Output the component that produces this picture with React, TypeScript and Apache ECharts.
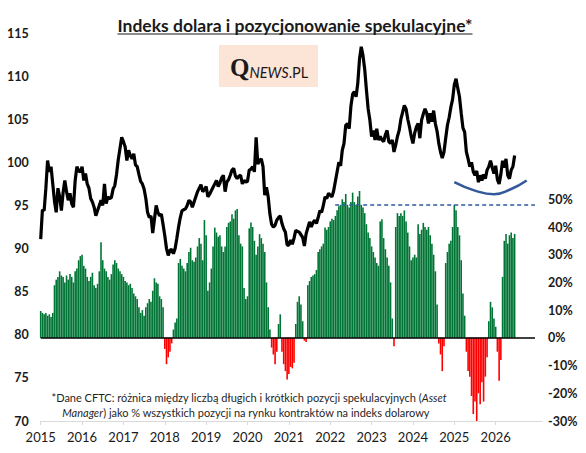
import React, { useEffect, useRef } from 'react';
import * as echarts from 'echarts';

const title = 'Indeks dolara i pozycjonowanie spekulacyjne*';
const yearTicks = [2015, 2016, 2017, 2018, 2019, 2020, 2021, 2022, 2023, 2024, 2025, 2026];

// Dollar index, two readings per month
const dxy2015 = [91.1, 94.5, 94.4, 97, 100.2, 98.9, 99.5, 97.5, 95.5, 94.2, 97.0, 96, 94.4, 96.5, 97.9, 96.6, 95.6, 96.4, 95.2, 94.8, 97.9, 99.5, 99, 98.9];
const dxy2016 = [99.5, 97.9, 98.7, 97.5, 97.0, 95.8, 95.4, 94.8, 93.8, 94.4, 95, 95.6, 95.0, 97.5, 95.2, 96.0, 95.8, 95.9, 96.9, 97.3, 98.6, 100.3, 101.6, 102.9];
const dxy2017 = [102.4, 101.8, 100.2, 101.4, 100.8, 100.4, 101.0, 99.7, 99.5, 98.6, 97.8, 97.5, 96.9, 95.8, 94.2, 93.6, 93.8, 91.8, 93.4, 95.0, 94.2, 93.8, 94.0, 92.8];
const dxy2018 = [91.5, 90.0, 89.2, 89.8, 89.9, 89.4, 90.0, 91.2, 92.5, 93.6, 94.4, 94.5, 94.6, 95.0, 95.6, 95.4, 94.8, 95.4, 96.0, 96.6, 97.0, 97.4, 96.6, 96.8];
const dxy2019 = [97.2, 96.0, 96.3, 96.7, 97.1, 97.5, 97.9, 97.2, 97.6, 98.2, 98.5, 96.6, 97.7, 98.0, 98.5, 99.1, 99.3, 98.4, 98.1, 98.4, 98.5, 97.5, 97.9, 97.7];
const dxy2020 = [97.8, 99.1, 99.2, 99.5, 98.9, 102.9, 99.8, 100.2, 100.4, 99.5, 96.2, 97.1, 96.0, 94.0, 92.8, 92.5, 92.7, 93.3, 93.6, 93.8, 92.9, 92.3, 91.9, 90.4];
const dxy2021 = [90.4, 91.0, 90.5, 91.2, 92.1, 92.0, 91.9, 91.6, 91.3, 90.3, 91.7, 92.4, 93.1, 92.5, 93.0, 93.3, 92.9, 93.6, 94.4, 94.2, 95.0, 96.0, 95.8, 96.4];
const dxy2022 = [96.2, 96.0, 96.7, 97.8, 98.9, 100.0, 99.6, 101.4, 102.2, 104.3, 104.5, 103.9, 106.5, 107.9, 108.2, 107.6, 109.2, 112.0, 113.4, 112.4, 110.8, 108.4, 106.2, 104.9];
const dxy2023 = [103.0, 103.7, 102.6, 103.9, 102.6, 103.0, 102.6, 102.4, 103.2, 103.7, 102.4, 102.2, 102.6, 101.2, 102.0, 103.0, 103.7, 105.0, 105.8, 106.6, 106.2, 105.0, 104.1, 103.0];
const dxy2024 = [102.2, 103.4, 104.1, 104.5, 102.8, 104.9, 105.6, 106.2, 105.7, 104.5, 105.7, 104.7, 106.0, 104.5, 103.6, 102.2, 101.2, 100.5, 101.2, 102.8, 104.3, 105.2, 106.4, 107.3];
const dxy2025 = [109.0, 109.7, 108.6, 107.6, 105.7, 104.0, 103.5, 101.2, 100.4, 99.5, 100.0, 98.9, 98.5, 99.0, 97.7, 98.5, 97.9, 98.6, 98.1, 99.1, 99.5, 100.2, 99.4, 98.7];
const dxy2026 = [99.6, 98.0, 97.5, 98.6, 100.2, 99.4, 100.4, 98.5, 98.1, 99.1, 99.5, 100.8];

// Net speculative positioning (% of open interest), two readings per month
const pos2015 = [9.7, 9, 8.5, 9, 8, 8.5, 7.5, 9, 19, 21, 22, 24, 22.5, 22, 20, 22.5, 21, 23, 22, 20, 24, 25, 28, 29.5];
const pos2016 = [30, 26, 25, 22, 20.5, 22, 23.5, 19, 18, 19.5, 24, 34.5, 28, 25, 24, 22, 21, 23, 26.5, 28, 27, 25, 24, 23];
const pos2017 = [22, 20.5, 20, 19, 19.5, 18, 16, 15, 14, 11, 9, 10, 8, 11, 12.5, 14, 13, 17, 21.5, 20, 19.5, 15, 14, 11];
const pos2018 = [-4, -9.5, -7, -5, -2, 3, 5.5, 7, 27, 28.5, 26, 25, 24, 27, 31, 32.5, 28, 27.5, 29, 33, 36, 34, 28, 42.5];
const pos2019 = [37, 17, 20, 25, 33, 39.8, 38, 36.5, 37, 33, 31, 33, 40, 41.5, 42, 44.6, 43, 46, 46.5, 37, 34, 33, 18, 14];
const pos2020 = [15, 39.5, 41.6, 40, 35, 30, 33, 37.4, 36, 34, 31, 20, 11, 3, -3.5, -6, -9.5, -5, 5, 8.5, -5, -9.5, -12, -15];
const pos2021 = [-13, -10.5, -11, -9, 5, 13, 15, 12, 6, -1, -1.5, 19, 20.5, 22, 22.5, 23, 24.5, 31, 32, 33, 34, 39.8, 39, 40];
const pos2022 = [42, 43, 42.5, 44, 46, 47.5, 48, 50, 49, 51.9, 48, 47, 49, 52.4, 49, 48, 51, 53, 48, 47, 45, 41, 38, 36];
const pos2023 = [33, 31, 29, 27, 26, 42, 42.8, 36, 32, 29, 26, 20, 7, -3, 40, 45, 44, 45, 44, 46, 42, 38, 33, 28];
const pos2024 = [29, 30, 29, 41, 37.5, 39, 41.5, 40, 39, 40, 37, 34, 30, 24, 12, -2, -6, -12, -3, 27, 31, 34, 35, 40];
const pos2025 = [48, 46, 40, 37, 28, 16, 8, -5, -12, -14, -21, -27.5, -23, -30, -20, -24, -16, -23, -14, -7, 6, 13, 11, 7];
const pos2026 = [4, -5, -15.5, -8, 22, 35, 37.5, 34, 37, 38, 36, 37.5];

// Annotations
const dashedLevel = 48;
const dashedFrom = 2022.12;
const dashedTo = 2026.95;
const arcPoints = [[2025.0, 97.7], [2025.48, 96.75], [2025.96, 96.3], [2026.35, 96.85], [2026.75, 97.9]];

const footLine1 = '*Dane CFTC: różnica między liczbą długich i krótkich pozycji spekulacyjnych (';
const footItalic1 = 'Asset';
const footItalic2 = 'Manager';
const footLine2 = ') jako % wszystkich pozycji na rynku kontraktów na indeks dolarowy';

const dollarIndex = [...dxy2015, ...dxy2016, ...dxy2017, ...dxy2018, ...dxy2019, ...dxy2020, ...dxy2021, ...dxy2022, ...dxy2023, ...dxy2024, ...dxy2025, ...dxy2026];
const positioning = [...pos2015, ...pos2016, ...pos2017, ...pos2018, ...pos2019, ...pos2020, ...pos2021, ...pos2022, ...pos2023, ...pos2024, ...pos2025, ...pos2026];

const FONT = 'Lato, "Open Sans", sans-serif';

export default function App() {
  const ref = useRef<HTMLDivElement>(null);
  useEffect(() => {
    if (!ref.current) return;
    const chart = echarts.init(ref.current, undefined, { renderer: 'svg' });
    const periods = dollarIndex.map((_, i) => 2015 + i / 24);
    const lineData = dollarIndex.map((v, i) => [periods[i], v]);
    const barData = positioning.map((v, i) => [2015 + i / 24, v]);

    const titleFont = 'bold 17.5px Lato';
    let titleW = 356;
    try {
      const ctx = document.createElement('canvas').getContext('2d');
      if (ctx) { ctx.font = titleFont; titleW = ctx.measureText(title).width; }
    } catch (e) {}
    const tcx = 295;

    chart.setOption({
      animation: false,
      textStyle: { fontFamily: FONT },
      grid: { left: 40.7, right: 44, top: 33, bottom: 32, containLabel: false },
      xAxis: {
        type: 'value',
        min: 2015,
        max: 2027.12,
        interval: 1,
        splitLine: { show: false },
        axisLine: { show: true, onZero: false, lineStyle: { color: '#d9d9d9', width: 1 } },
        axisTick: { show: true, customValues: yearTicks, length: 4, lineStyle: { color: '#d9d9d9' } },
        axisLabel: {
          customValues: yearTicks,
          formatter: (v: number) => String(Math.round(v)),
          color: '#1a1a1a', fontSize: 13, margin: 9, fontFamily: FONT,
        },
      },
      yAxis: [
        {
          type: 'value', min: 70, max: 115, interval: 5, position: 'left',
          splitLine: { show: false }, axisLine: { show: false }, axisTick: { show: false },
          axisLabel: { color: '#1a1a1a', fontSize: 12.5, fontWeight: 'bold', margin: 12, fontFamily: FONT },
        },
        {
          type: 'value', min: -30, max: 110, interval: 10, position: 'right',
          splitLine: { show: false }, axisLine: { show: false }, axisTick: { show: false },
          axisLabel: {
            color: '#1a1a1a', fontSize: 12.5, fontWeight: 'bold', margin: 6, fontFamily: FONT,
            formatter: (v: number) => (v <= 50 ? `${Math.round(v)}%` : ''),
          },
        },
      ],
      series: [
        {
          type: 'bar',
          yAxisIndex: 1,
          barWidth: 1.6,
          data: barData,
          itemStyle: {
            color: (p: any) => (p.value[1] < 0 ? '#ff0000' : '#007535'),
          },
          markLine: {
            silent: true,
            symbol: ['none', 'none'],
            label: { show: false },
            data: [
              [
                { coord: [dashedFrom, dashedLevel], lineStyle: { type: [4, 3], color: '#2e5c9e', width: 1.5 } },
                { coord: [dashedTo, dashedLevel] },
              ],
              [
                { coord: [2015, 0], lineStyle: { type: 'solid', color: '#000000', width: 1.5 } },
                { coord: [dashedTo, 0] },
              ],
            ],
          },
          z: 2,
        },
        {
          type: 'line',
          yAxisIndex: 0,
          data: lineData,
          showSymbol: false,
          lineStyle: { color: '#000000', width: 3.2 },
          z: 3,
        },
        {
          type: 'line',
          yAxisIndex: 0,
          data: arcPoints,
          smooth: true,
          showSymbol: false,
          lineStyle: { color: '#34599a', width: 2.5 },
          z: 4,
        },
      ],
      graphic: [
        {
          type: 'text',
          x: tcx, y: 25,
          style: {
            text: title, font: titleFont, fill: '#1a1a1a',
            textAlign: 'center', textVerticalAlign: 'middle',
          },
        },
        {
          type: 'line',
          shape: { x1: tcx - titleW / 2, y1: 34, x2: tcx + titleW / 2, y2: 34 },
          style: { stroke: '#1a1a1a', lineWidth: 1.2 },
        },
        {
          type: 'rect',
          shape: { x: 219, y: 45, width: 99, height: 42 },
          style: { fill: '#fce4d6' },
        },
        {
          type: 'text',
          x: 230, y: 67,
          style: {
            text: '{q|Q}{n|NEWS}{p|.PL}',
            textVerticalAlign: 'middle',
            rich: {
              q: { fontFamily: '"Liberation Serif", serif', fontSize: 25, fontWeight: 'bold', fill: '#1a1a1a', verticalAlign: 'bottom' },
              n: { fontFamily: FONT, fontSize: 14.5, fontStyle: 'italic', fill: '#1a1a1a', verticalAlign: 'bottom' },
              p: { fontFamily: FONT, fontSize: 14.5, fill: '#1a1a1a', verticalAlign: 'bottom' },
            },
          },
        },
        {
          type: 'text',
          x: 249, y: 397,
          style: {
            text: `{a|${footLine1}}{i|${footItalic1}}`,
            textAlign: 'center', textVerticalAlign: 'middle',
            rich: {
              a: { fontFamily: FONT, fontSize: 11, fill: '#1f1f1f' },
              i: { fontFamily: FONT, fontSize: 11, fontStyle: 'italic', fill: '#1f1f1f' },
            },
          },
        },
        {
          type: 'text',
          x: 246, y: 412,
          style: {
            text: `{i|${footItalic2}}{a|${footLine2}}`,
            textAlign: 'center', textVerticalAlign: 'middle',
            rich: {
              a: { fontFamily: FONT, fontSize: 11, fill: '#1f1f1f' },
              i: { fontFamily: FONT, fontSize: 11, fontStyle: 'italic', fill: '#1f1f1f' },
            },
          },
        },
      ],
    });
    return () => chart.dispose();
  }, []);
  return (
    <div
      ref={ref}
      style={{ position: 'fixed', left: 0, top: 0, width: 586, height: 453, background: '#ffffff' }}
    />
  );
}
